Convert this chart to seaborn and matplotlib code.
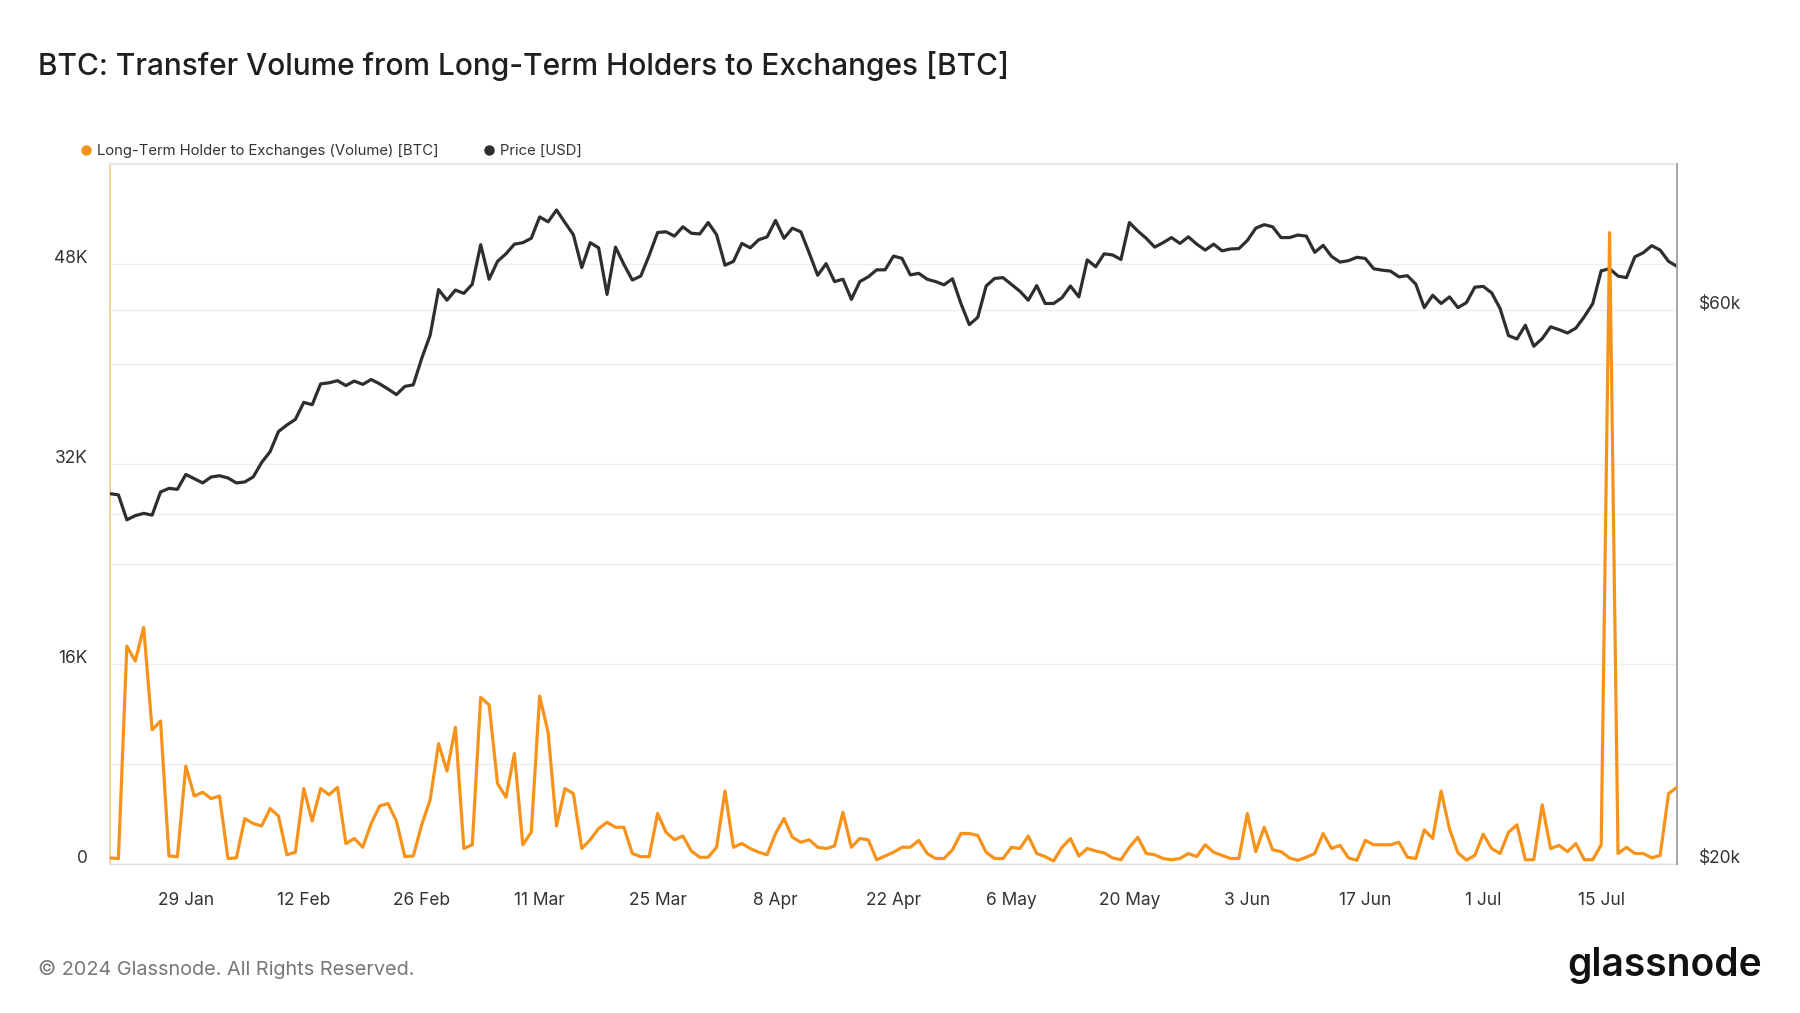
import matplotlib
matplotlib.use("Agg")
import matplotlib.pyplot as plt
import matplotlib.dates as mdates
from matplotlib.ticker import FixedLocator, NullFormatter, NullLocator
from matplotlib.lines import Line2D
from matplotlib.transforms import ScaledTranslation
import numpy as np
import pandas as pd
import seaborn as sns

sns.set_theme(style="white")
plt.rcParams['font.family'] = ['Inter', 'DejaVu Sans']

# ---------------- data ----------------
start_date = "2024-01-20"
end_date = "2024-07-24"

volume_btc = [
    # Jan 20-31
    450, 400, 17400, 16200, 18900, 10700, 11400, 600, 550, 7800, 5400, 5700,
    # Feb
    5200, 5400, 400, 450, 3600, 3200, 3000, 4400, 3800, 700, 900, 6000, 3400, 6000, 5500,
    6100, 1600, 2000, 1300, 3200, 4600, 4800, 3400, 550, 600, 3100, 5100, 9600, 7400,
    # Mar
    10900, 1200, 1500, 13300, 12700, 6400, 5300, 8800, 1500, 2500, 13400, 10500, 3000, 6000, 5600,
    1200, 1900, 2800, 3300, 2900, 2900, 800, 550, 550, 4000, 2500, 1900, 2200, 1000, 500, 500,
    # Apr
    1300, 5800, 1300, 1600, 1200, 900, 700, 2400, 3600, 2100, 1700, 1900, 1300, 1200, 1400,
    4100, 1300, 2000, 1900, 300, 600, 900, 1300, 1300, 1850, 800, 400, 400, 1100, 2400,
    # May
    2400, 2250, 900, 400, 400, 1300, 1200, 2200, 800, 550, 200, 1300, 2000, 600, 1200,
    1000, 850, 450, 300, 1300, 2100, 800, 700, 400, 300, 400, 800, 550, 1500, 900, 650,
    # Jun
    400, 400, 4000, 950, 2900, 1100, 950, 450, 250, 500, 800, 2400, 1200, 1450, 450,
    250, 1850, 1500, 1500, 1500, 1700, 500, 400, 2700, 2000, 5800, 2750, 850, 270, 650,
    # Jul 1-24
    2350, 1200, 800, 2500, 3100, 300, 300, 4700, 1200, 1450, 950, 1600, 300, 300, 1500,
    50500, 800, 1300, 800, 800, 450, 650, 5600, 6100,
]

price_usd = [
    # Jan 20-31
    41680, 41580, 39570, 39900, 40080, 39940, 41820, 42120, 42040, 43300, 42940, 42580,
    # Feb
    43080, 43190, 43000, 42580, 42660, 43090, 44340, 45300, 47150, 47770, 48300, 49960, 49730,
    51830, 51940, 52160, 51660, 52120, 51780, 52280, 51840, 51300, 50740, 51570, 51730, 54520,
    57090, 62500, 61200,
    # Mar
    62440, 62030, 63170, 68330, 63800, 66110, 67100, 68400, 68600, 69200, 72200, 71500, 73200,
    71400, 69700, 65300, 68600, 67900, 61900, 68000, 65700, 63700, 64200, 66900, 70000, 70100,
    69500, 70800, 69900, 69800, 71400,
    # Apr
    69700, 65600, 66100, 68500, 67900, 69000, 69400, 71700, 69200, 70600, 70100, 67200, 64300,
    65800, 63500, 63800, 61300, 63500, 64100, 65000, 65000, 66800, 66500, 64350, 64550, 63800,
    63500, 63100, 63850, 60800,
    # May
    58300, 59150, 62950, 63900, 64000, 63150, 62300, 61200, 63000, 60800, 60800, 61500, 62950,
    61600, 66300, 65400, 67100, 66950, 66350, 71400, 70200, 69200, 68000, 68600, 69300, 68500,
    69400, 68400, 67600, 68400, 67500,
    # Jun
    67750, 67800, 68900, 70600, 71100, 70800, 69300, 69300, 69650, 69500, 67300, 68240, 66750,
    66010, 66190, 66640, 66490, 65140, 64960, 64830, 64100, 64250, 63180, 60300, 61800, 60800,
    61600, 60300, 60900, 62800,
    # Jul 1-24
    62900, 62100, 60200, 57050, 56660, 58230, 55850, 56710, 58050, 57720, 57340, 57900, 59230,
    60790, 64870, 65150, 64200, 64000, 66700, 67250, 68200, 67600, 66100, 65450,
]

left_ticks = [0, 16000, 32000, 48000]
left_tick_labels = ["0", "16K", "32K", "48K"]
left_minor = [8000, 24000, 40000, 56000]
right_ticks = [20000, 60000]
right_tick_labels = ["$20k", "$60k"]
right_minor = [40000]
x_tick_start = "2024-01-29"
x_tick_end = "2024-07-15"

title = "BTC: Transfer Volume from Long-Term Holders to Exchanges [BTC]"
series_labels = ["Long-Term Holder to Exchanges (Volume) [BTC]", "Price [USD]"]
footer = "\u00a9 2024 Glassnode. All Rights Reserved."
brand = "glassnode"

ORANGE = "#F7931A"
DARK = "#2e2e2e"

dates = pd.date_range(start_date, end_date, freq="D")
df = pd.DataFrame({"date": dates, "volume": volume_btc, "price": price_usd})

# ---------------- figure ----------------
W, H = 1800, 1013
fig = plt.figure(figsize=(W / 100, H / 100), dpi=100)
fig.patch.set_facecolor("white")

left, right, top, bottom = 110, 1677, 164, 863.5
# bottom layer: volume scale grid + left labels + x axis
ax = fig.add_axes([left / W, 1 - bottom / H, (right - left) / W, (bottom - top) / H])
# middle layer: price (log) line, its grid and right labels
ax2 = ax.twinx()
# top layer: volume line
ax3 = ax.twinx()

ax2.set_yscale("log")
sns.lineplot(data=df, x="date", y="price", ax=ax2, color=DARK, linewidth=2.3)
sns.lineplot(data=df, x="date", y="volume", ax=ax3, color=ORANGE, linewidth=2.3)

ax.set_xlim(dates[0], dates[-1])
ax.set_ylim(0, 56000)
ax3.set_ylim(0, 56000)
ax2.set_ylim(20000, 80200)

for a in (ax, ax2, ax3):
    a.set_xlabel("")
    a.set_ylabel("")

# x ticks
xt = pd.date_range(x_tick_start, x_tick_end, freq="14D")
ax.set_xticks(xt)
ax.xaxis.set_major_formatter(mdates.DateFormatter("%-d %b"))
ax.tick_params(axis="x", length=10, width=1, color="#e6e6e6", pad=10.5,
               labelsize=12.5, labelcolor="#333333")

# left y (volume scale)
ax.yaxis.set_major_locator(FixedLocator(left_ticks))
ax.set_yticklabels(left_tick_labels)
ax.yaxis.set_minor_locator(FixedLocator(left_minor))
ax.yaxis.set_minor_formatter(NullFormatter())
ax.tick_params(axis="y", which="both", length=0, pad=16, labelsize=12.5, labelcolor="#333333")
ax.grid(False)
ax.grid(True, axis="y", which="both", color="#efefef", linewidth=1)

# right y (price)
ax2.yaxis.set_major_locator(FixedLocator(right_ticks))
ax2.set_yticklabels(right_tick_labels)
ax2.yaxis.set_minor_locator(FixedLocator(right_minor))
ax2.yaxis.set_minor_formatter(NullFormatter())
ax2.tick_params(axis="y", which="both", length=0, pad=16, labelsize=12.5, labelcolor="#333333")
ax2.grid(False)
ax2.grid(True, axis="y", which="both", color="#efefef", linewidth=1)

# top volume-line axes: no ticks, no grid
ax3.grid(False)
ax3.yaxis.set_major_locator(NullLocator())
ax3.yaxis.set_minor_locator(NullLocator())

shift = ScaledTranslation(0, -3 / 100, fig.dpi_scale_trans)
for lbl in ax.get_yticklabels() + ax2.get_yticklabels():
    lbl.set_va("bottom")
    lbl.set_transform(lbl.get_transform() + shift)

# spines
for a in (ax2, ax3):
    for s in ("left", "right", "top", "bottom"):
        a.spines[s].set_visible(False)
ax.spines["right"].set_visible(False)
ax.spines["left"].set_color("#f8c890")
ax.spines["left"].set_linewidth(1.2)
ax.spines["top"].set_color("#e6e6e6")
ax.spines["top"].set_linewidth(1.2)
ax.spines["bottom"].set_color("#e0e0e0")
ax.spines["bottom"].set_linewidth(1)
ax2.spines["right"].set_visible(True)
ax2.spines["right"].set_color("#a0a0a0")
ax2.spines["right"].set_linewidth(1.3)

# legend
handles = [
    Line2D([], [], marker="o", linestyle="None", markerfacecolor=ORANGE,
           markeredgecolor=ORANGE, markersize=6.5),
    Line2D([], [], marker="o", linestyle="None", markerfacecolor=DARK,
           markeredgecolor=DARK, markersize=6.5),
]
fig.legend(handles, series_labels, loc="center left",
           bbox_to_anchor=(80 / W, 1 - 151 / H), ncol=2, frameon=False,
           fontsize=10.7, labelcolor="#333333", handlelength=0.8,
           handletextpad=0.35, columnspacing=3.0, borderaxespad=0, borderpad=0)

# title & footer
fig.text(38 / W, 1 - 66 / H, title, fontsize=21.5, ha="left", va="center",
         color="#1f1f1f", fontweight="medium")
fig.text(38 / W, 1 - 969 / H, footer, fontsize=14.3, ha="left", va="center",
         color="#777777")
fig.text(1762 / W, 1 - 965 / H, brand, fontsize=28, ha="right", va="center",
         color="#111111", fontweight="semibold")

fig.savefig("out.png", dpi=100, facecolor="white")
